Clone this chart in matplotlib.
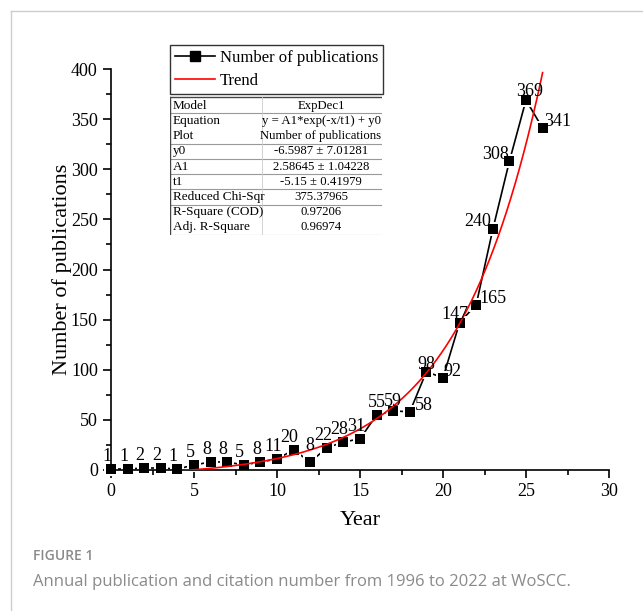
import matplotlib.pyplot as plt
import numpy as np
plt.rcParams['font.family'] = ['Liberation Serif', 'DejaVu Serif']
plt.rcParams['mathtext.fontset'] = 'stix'

# publications per year index (1996 -> 0)
year = np.arange(27)
pubs = [1, 1, 2, 2, 1, 5, 8, 8, 5, 8, 11, 20, 8, 22, 28, 31, 55, 59, 58,
        98, 92, 147, 165, 240, 308, 369, 341]

# ExpDec1 fit parameters
y0, A1, t1 = -6.5987, 2.58645, -5.15

table_rows = [
    ('Model', 'ExpDec1'),
    ('Equation', 'y = A1*exp(-x/t1) + y0'),
    ('Plot', 'Number of publications'),
    ('y0', '-6.5987 \u00b1 7.01281'),
    ('A1', '2.58645 \u00b1 1.04228'),
    ('t1', '-5.15 \u00b1 0.41979'),
    ('Reduced Chi-Sqr', '375.37965'),
    ('R-Square (COD)', '0.97206'),
    ('Adj. R-Square', '0.96974'),
]

xticks = np.arange(0, 31, 5)
yticks = np.arange(0, 401, 50)

W, H = 643, 611
fig = plt.figure(figsize=(W / 100, H / 100), dpi=100)
ax = fig.add_axes([111 / W, (H - 470) / H, 498 / W, 401 / H])

# line with gaps around markers (white halo trick)
ax.plot(year, pubs, '-', color='k', lw=1.2, zorder=2)
ax.plot(year, pubs, 's', color='w', ms=9.5, mew=0, zorder=2.1, clip_on=False)
ax.plot(year, pubs, 's', color='k', ms=6.5, mew=0, zorder=2.2, clip_on=False)

xf = np.linspace(0, 26, 300)
ax.plot(xf, A1 * np.exp(-xf / t1) + y0, color='red', lw=1.2, zorder=3)

# data labels, small nudges (pixels) where they would collide
dx = [-4] * 27
dy = [8] * 27
for i, (a, b) in {12: (0, 12), 16: (0, 8), 17: (0, 5), 18: (14, 2), 20: (9, 2),
                  21: (-5, 4), 22: (17, 2), 23: (-15, 3), 24: (-14, 2),
                  25: (4, 4), 26: (15, 2), 19: (0, 3)}.items():
    dx[i], dy[i] = a, b
for i in range(len(year)):
    ax.annotate(str(pubs[i]), (year[i], pubs[i]), xytext=(dx[i], dy[i]),
                textcoords='offset pixels', ha='center', va='baseline',
                fontsize=13, zorder=4, annotation_clip=False)

ax.set_xlim(0, 30)
ax.set_ylim(0, 400)
ax.set_xticks(xticks, [str(v) for v in xticks], fontfamily='Liberation Serif')
ax.set_xticks(np.arange(2.5, 30, 5), minor=True)
ax.set_yticks(yticks, [str(v) for v in yticks], fontfamily='Liberation Serif')
ax.set_yticks(np.arange(25, 400, 50), minor=True)
ax.tick_params(which='major', direction='out', length=6, width=1.2, labelsize=13)
ax.tick_params(which='minor', direction='out', length=3.5, width=1.2)
for s in ['top', 'right']:
    ax.spines[s].set_visible(False)
for s in ['left', 'bottom']:
    ax.spines[s].set_linewidth(1.2)
ax.set_xlabel('Year', fontsize=16, labelpad=8)
ax.set_ylabel('Number of publications', fontsize=16, labelpad=-1)

leg = ax.legend(handles=[
    plt.Line2D([], [], color='k', marker='s', ms=6.5, lw=1.2),
    plt.Line2D([], [], color='red', lw=1.2)],
    labels=['Number of publications', 'Trend'],
    loc='upper left', bbox_to_anchor=((170 - 111) / 498, (470 - 45) / 401),
    borderaxespad=0, fontsize=12, fancybox=False, edgecolor='k',
    handlelength=2.4, handletextpad=0.3, labelspacing=0.4, borderpad=0.3)
leg.get_frame().set_linewidth(1.0)

# fit result table
tx = fig.add_axes([170 / W, (H - 235) / H, 212 / W, 139 / H])
tx.set_xlim(0, 212)
tx.set_ylim(139, 0)
tx.axis('off')
rh = 137 / 9
for r, (a, b) in enumerate(table_rows):
    yc = 2 + rh * (r + 0.5)
    tx.text(3, yc, a, fontsize=9.5, va='center', ha='left')
    tx.text(151, yc, b, fontsize=9.2, va='center', ha='center')
for r in [1, 3, 4, 5, 6, 7, 9]:
    tx.plot([0, 212], [2 + rh * r] * 2, color='#999999', lw=0.8)
tx.plot([0, 212], [1, 1], color='#444444', lw=1.0)
tx.plot([0.5, 0.5], [1, 139], color='#444444', lw=1.0)
tx.plot([92, 92], [1, 139], color='#cccccc', lw=0.6)

# page frame and caption
fig.add_artist(plt.Line2D([11 / W, 11 / W], [0, 1 - 11 / H], color='#cccccc', lw=1))
fig.add_artist(plt.Line2D([11 / W, 1], [1 - 11 / H] * 2, color='#cccccc', lw=1))
fig.text(33 / W, 1 - 556 / H, 'FIGURE 1', fontsize=10, color='#8a8a8a',
         family='Open Sans', va='center', weight='semibold')
fig.text(33 / W, 1 - 582 / H,
         'Annual publication and citation number from 1996 to 2022 at WoSCC.',
         fontsize=12, color='#8a8a8a', family='Open Sans', va='center')

fig.savefig('out.png', dpi=100)
